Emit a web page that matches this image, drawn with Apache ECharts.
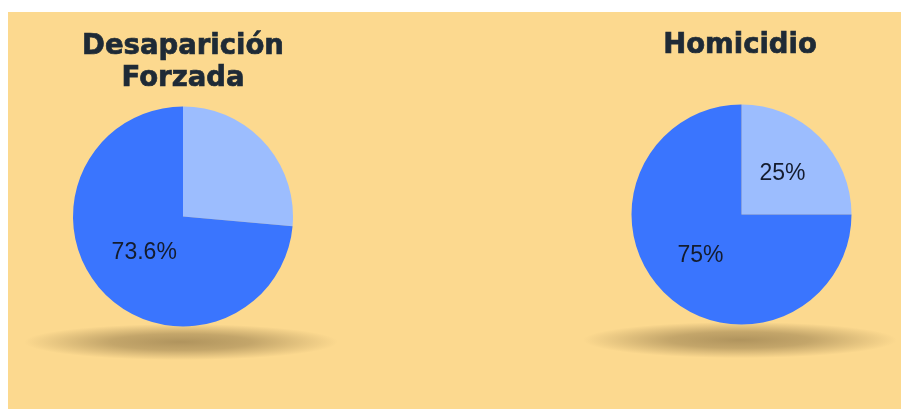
<!DOCTYPE html>
<html>
<head>
<meta charset="utf-8">
<script src="https://cdn.jsdelivr.net/npm/echarts@6/dist/echarts.min.js"></script>
<style>
html,body{margin:0;padding:0;background:#fff;}
#c{width:901px;height:409px;}
</style>
</head>
<body>
<div id="c"></div>
<script>
// Data
const categories = ["Otros", "Principal"];
const titleA = "Desaparición\nForzada";
const titleB = "Homicidio";
const valuesA = [26.4, 73.6];
const valuesB = [25, 75];

const colors = ['#9cbdfe', '#3a75fe'];
const chart = echarts.init(document.getElementById('c'), null, {renderer: 'canvas'});

function buildData(vals, hideFirstLabel) {
  return vals.map((v, i) => ({
    name: categories[i],
    value: v,
    label: { show: !(hideFirstLabel && i === 0) }
  }));
}

function shadow(cx, cy) {
  return {
    type: 'circle',
    x: cx, y: cy,
    shape: {cx: 0, cy: 0, r: 157},
    scaleY: 0.115,
    z: -5,
    silent: true,
    style: {
      fill: {
        type: 'radial', x: 0.5, y: 0.5, r: 0.5,
        colorStops: [
          {offset: 0, color: 'rgba(140,115,70,0.68)'},
          {offset: 0.45, color: 'rgba(140,115,70,0.5)'},
          {offset: 0.8, color: 'rgba(140,115,70,0.18)'},
          {offset: 1, color: 'rgba(140,115,70,0)'}
        ]
      }
    }
  };
}

const labelCfg = {
  position: 'inside',
  fontFamily: 'Liberation Sans, Arial, sans-serif',
  fontSize: 23,
  color: '#141c2e',
  formatter: p => p.value + '%'
};

const titleFont = 'bold 27.5px "DejaVu Sans", sans-serif';
function titleText(x, y, txt) {
  return {type: 'text', x: x, y: y, z: 10, silent: true, style: {
    text: txt, fill: '#1e2a36', stroke: '#1e2a36', lineWidth: 0.7,
    font: titleFont, textAlign: 'center', textVerticalAlign: 'top', lineHeight: 32
  }};
}

chart.setOption({
  backgroundColor: '#ffffff',
  animation: false,
  color: colors,
  graphic: [
    {type: 'rect', z: -10, silent: true, shape: {x: 8, y: 12, width: 893, height: 397}, style: {fill: '#fcd98f'}},
    shadow(181, 342),
    shadow(740, 340),
    titleText(183, 31, titleA),
    titleText(740, 30, titleB)
  ],
  series: [
    {
      type: 'pie',
      center: [183, 216.5],
      radius: 110,
      startAngle: 90,
      clockwise: true,
      silent: true,
      label: Object.assign({}, labelCfg, {offset: [4, -3]}),
      labelLine: {show: false},
      itemStyle: {borderWidth: 0},
      emphasis: {disabled: true},
      data: buildData(valuesA, true)
    },
    {
      type: 'pie',
      center: [741.5, 214.5],
      radius: 110,
      startAngle: 90,
      clockwise: true,
      silent: true,
      label: labelCfg,
      labelLine: {show: false},
      itemStyle: {borderWidth: 0},
      emphasis: {disabled: true},
      data: buildData(valuesB, false)
    }
  ]
});
</script>
</body>
</html>
